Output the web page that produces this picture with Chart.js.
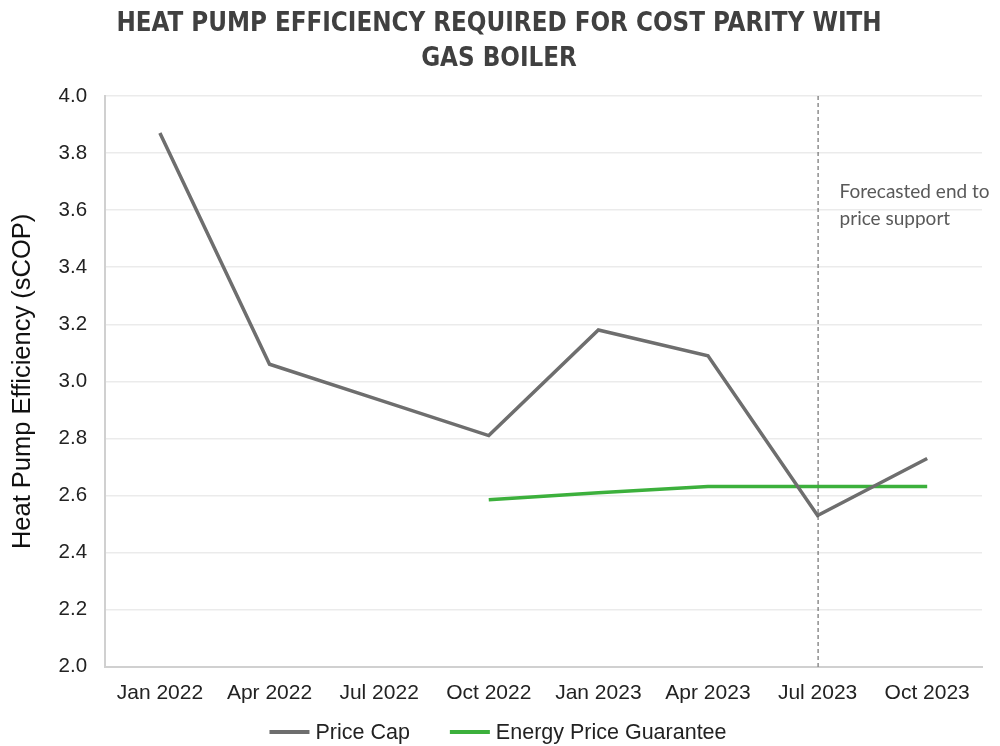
<!DOCTYPE html>
<html>
<head>
<meta charset="utf-8">
<script src="https://cdn.jsdelivr.net/npm/chart.js@4/dist/chart.umd.min.js"></script>
<style>
html,body{margin:0;padding:0;background:#fff;}
#wrap{width:1000px;height:746px;position:relative;}
</style>
</head>
<body>
<div id="wrap"><canvas id="c" width="1000" height="746"></canvas></div>
<script>
const categories = ["Jan 2022","Apr 2022","Jul 2022","Oct 2022","Jan 2023","Apr 2023","Jul 2023","Oct 2023"];
const priceCap = [3.87, 3.06, 2.935, 2.81, 3.18, 3.09, 2.53, 2.73];
const energyPriceGuarantee = [null, null, null, 2.585, 2.61, 2.632, 2.632, 2.632];
const yTicks = [2.0, 2.2, 2.4, 2.6, 2.8, 3.0, 3.2, 3.4, 3.6, 3.8, 4.0];
const titleLines = ['HEAT PUMP EFFICIENCY REQUIRED FOR COST PARITY WITH', 'GAS BOILER'];
const markerCategory = "Jul 2023";
const markerText = ["Forecasted end to", "price support"];

const FONT = 'Arial, "Liberation Sans", sans-serif';

const titlePlugin = {
  id: 'customTitle',
  afterDraw(chart) {
    const {ctx} = chart;
    ctx.save();
    ctx.fillStyle = '#404040';
    ctx.font = 'bold 25.7px "Liberation Sans Narrow", "DejaVu Sans Condensed", sans-serif';
    ctx.textAlign = 'center';
    ctx.textBaseline = 'middle';
    ctx.fillText(titleLines[0], 499, 24);
    ctx.fillText(titleLines[1], 499, 59);
    ctx.restore();
  }
};

const markerPlugin = {
  id: 'marker',
  afterDatasetsDraw(chart) {
    const {ctx, chartArea, scales} = chart;
    const x = scales.x.getPixelForValue(categories.indexOf(markerCategory));
    ctx.save();
    ctx.strokeStyle = '#555';
    ctx.lineWidth = 1;
    ctx.setLineDash([4, 3]);
    ctx.beginPath();
    ctx.moveTo(x + 0.5, chartArea.top);
    ctx.lineTo(x + 0.5, chartArea.bottom);
    ctx.stroke();
    ctx.setLineDash([]);
    ctx.fillStyle = '#595959';
    ctx.font = '19px Lato, "Open Sans", sans-serif';
    ctx.textBaseline = 'middle';
    ctx.textAlign = 'left';
    const ty = scales.y.getPixelForValue(3.665);
    ctx.fillText(markerText[0], x + 22, ty);
    ctx.fillText(markerText[1], x + 22, ty + 27);
    ctx.restore();
  }
};

const legendPlugin = {
  id: 'customLegend',
  afterDraw(chart) {
    const {ctx} = chart;
    const ds = chart.data.datasets;
    ctx.save();
    ctx.font = '21.5px ' + FONT;
    const lineW = 40, gapText = 6, gapItem = 40;
    const widths = ds.map(d => lineW + gapText + ctx.measureText(d.label).width);
    const total = widths.reduce((a, b) => a + b, 0) + gapItem * (ds.length - 1);
    let x = 498 - total / 2;
    const y = 732;
    ds.forEach((d, i) => {
      ctx.strokeStyle = d.borderColor;
      ctx.lineWidth = 4;
      ctx.beginPath();
      ctx.moveTo(x, y);
      ctx.lineTo(x + lineW, y);
      ctx.stroke();
      ctx.fillStyle = '#222';
      ctx.textBaseline = 'middle';
      ctx.textAlign = 'left';
      ctx.fillText(d.label, x + lineW + gapText, y + 1);
      x += widths[i] + gapItem;
    });
    ctx.restore();
  }
};

new Chart(document.getElementById('c'), {
  type: 'line',
  data: {
    labels: categories,
    datasets: [
      {label: 'Price Cap', data: priceCap, borderColor: '#6e6e6e', backgroundColor: '#6e6e6e', borderWidth: 3.5, pointRadius: 0, tension: 0},
      {label: 'Energy Price Guarantee', data: energyPriceGuarantee, borderColor: '#3cb03c', backgroundColor: '#3cb03c', borderWidth: 3.5, pointRadius: 0, tension: 0, spanGaps: false}
    ]
  },
  options: {
    responsive: false,
    animation: false,
    layout: {padding: {left: 4, right: 18, top: 96, bottom: 26}},
    plugins: {
      title: {display: false},
      legend: {display: false},
      tooltip: {enabled: false}
    },
    scales: {
      x: {
        offset: true,
        grid: {display: false, drawTicks: false},
        border: {display: true, color: '#d0d0d0', width: 2},
        ticks: {color: '#222', font: {family: FONT, size: 21}, padding: 14, maxRotation: 0}
      },
      y: {
        min: 2.0, max: 4.0,
        afterBuildTicks(scale) { scale.ticks = yTicks.map(v => ({value: v})); },
        grid: {color: '#ebebeb', drawTicks: false, lineWidth: 1.5},
        border: {display: true, color: '#d0d0d0', width: 2},
        ticks: {color: '#222', font: {family: FONT, size: 20.5}, padding: 18, callback: v => Number(v).toFixed(1)},
        title: {display: true, text: 'Heat Pump Efficiency (sCOP)', color: '#111', font: {family: FONT, size: 25.5}, padding: {bottom: 2}}
      }
    }
  },
  plugins: [markerPlugin, legendPlugin, titlePlugin]
});
</script>
</body>
</html>
